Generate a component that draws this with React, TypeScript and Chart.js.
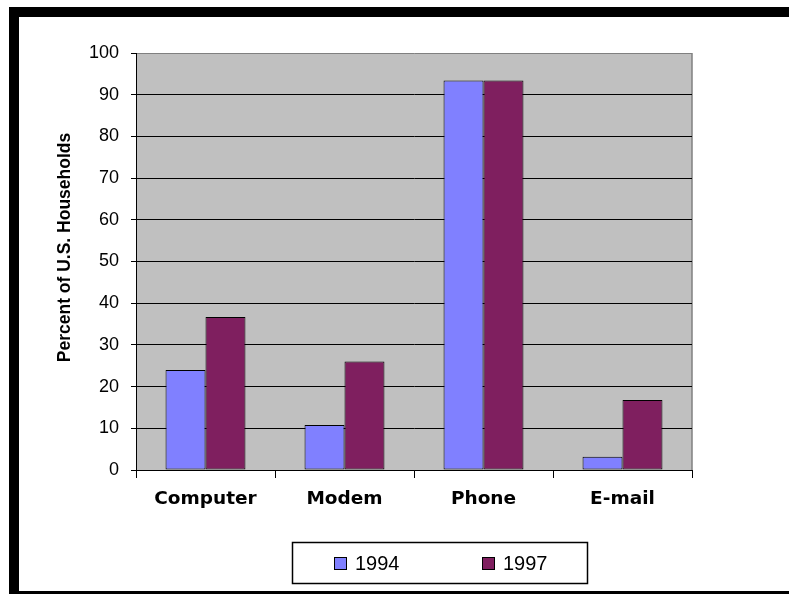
import { useEffect, useRef } from 'react';
import { Chart, registerables } from 'chart.js';

Chart.register(...registerables);

const categories = ['Computer', 'Modem', 'Phone', 'E-mail'];
const seriesLabels = ['1994', '1997'];
const values1994 = [24, 10.8, 93.4, 3.2];
const values1997 = [36.7, 26, 93.4, 16.8];
const seriesColors = ['#8080FF', '#7F1F5F'];
const yMin = 0;
const yMax = 100;
const yStep = 10;
const yTitle = 'Percent of U.S. Households';

const framePlugin = {
  id: 'frame',
  beforeDraw(chart: any) {
    const { ctx, chartArea: a, width, height } = chart;
    ctx.save();
    ctx.fillStyle = '#ffffff';
    ctx.fillRect(0, 0, width, height);
    ctx.fillStyle = '#000000';
    ctx.fillRect(9, 7, width - 9, 10);
    ctx.fillRect(9, 7, 10, height - 7);
    ctx.fillRect(19, 591, width - 19, 3);
    ctx.fillStyle = '#C0C0C0';
    ctx.fillRect(a.left, a.top, a.right - a.left, a.bottom - a.top);
    ctx.strokeStyle = '#808080';
    ctx.lineWidth = 1.5;
    ctx.beginPath();
    ctx.moveTo(a.right, a.top);
    ctx.lineTo(a.right, a.bottom);
    ctx.stroke();
    ctx.restore();
  },
  afterDraw(chart: any) {
    const { ctx, chartArea: a } = chart;
    ctx.save();
    ctx.translate(65, (a.top + a.bottom) / 2 - 14);
    ctx.rotate(-Math.PI / 2);
    ctx.fillStyle = '#000';
    ctx.font = 'bold 17.5px "Liberation Sans", Arial, sans-serif';
    ctx.textAlign = 'center';
    ctx.textBaseline = 'middle';
    ctx.fillText(yTitle, 0, 0);
    ctx.restore();

    ctx.save();
    const bx = 292, by = 542, bw = 295, bh = 41;
    ctx.strokeStyle = '#000';
    ctx.lineWidth = 1.5;
    ctx.strokeRect(bx + 0.5, by + 0.5, bw, bh);
    ctx.font = '20px "Liberation Sans", Arial, sans-serif';
    ctx.textBaseline = 'middle';
    ctx.textAlign = 'left';
    const offsets = [42, 190];
    chart.data.datasets.forEach((ds: any, i: number) => {
      const sx = bx + offsets[i];
      const sy = by + 15;
      ctx.fillStyle = ds.backgroundColor;
      ctx.fillRect(sx, sy, 13, 13);
      ctx.strokeStyle = '#000';
      ctx.lineWidth = 1;
      ctx.strokeRect(sx + 0.5, sy + 0.5, 12, 12);
      ctx.fillStyle = '#000';
      ctx.fillText(ds.label, sx + 21, sy + 7);
    });
    ctx.restore();
  },
};

export default function App() {
  const ref = useRef<HTMLCanvasElement>(null);
  useEffect(() => {
    document.body.style.margin = '0';
    const chart = new Chart(ref.current as HTMLCanvasElement, {
      type: 'bar',
      data: {
        labels: categories,
        datasets: [
          {
            label: seriesLabels[0],
            data: values1994,
            backgroundColor: seriesColors[0],
            borderColor: '#000',
            borderWidth: 1,
            borderSkipped: false,
          },
          {
            label: seriesLabels[1],
            data: values1997,
            backgroundColor: seriesColors[1],
            borderColor: '#000',
            borderWidth: 1,
            borderSkipped: false,
          },
        ],
      },
      options: {
        animation: false,
        responsive: false,
        devicePixelRatio: 1,
        layout: { padding: { left: 20, right: 97, top: 53, bottom: 0 } },
        plugins: {
          legend: { display: false },
          tooltip: { enabled: false },
        },
        datasets: {
          bar: { categoryPercentage: 0.575, barPercentage: 1.0 },
        },
        scales: {
          x: {
            offset: true,
            grid: {
              offset: true,
              drawOnChartArea: false,
              drawTicks: true,
              tickLength: 8,
              color: '#000',
              tickColor: '#000',
            },
            border: { display: true, color: '#000', width: 1 },
            ticks: {
              color: '#000',
              padding: 10,
              font: { family: '"DejaVu Sans", sans-serif', size: 18.5, weight: 'bold' },
            },
            afterFit(scale: any) {
              scale.height = 124;
            },
          },
          y: {
            min: yMin,
            max: yMax,
            ticks: {
              stepSize: yStep,
              color: '#000',
              padding: 12,
              font: { family: '"Liberation Sans", Arial, sans-serif', size: 18 },
            },
            grid: {
              color: (c: any) => (c.tick && c.tick.value === yMax ? '#808080' : '#000'),
              tickColor: '#000',
              tickLength: 5,
              lineWidth: 1,
            },
            border: { display: true, color: '#000', width: 1 },
            afterFit(scale: any) {
              scale.width = 116;
            },
          },
        },
      } as any,
      plugins: [framePlugin],
    });
    return () => chart.destroy();
  }, []);
  return <canvas ref={ref} width={789} height={594} style={{ display: 'block' }} />;
}
